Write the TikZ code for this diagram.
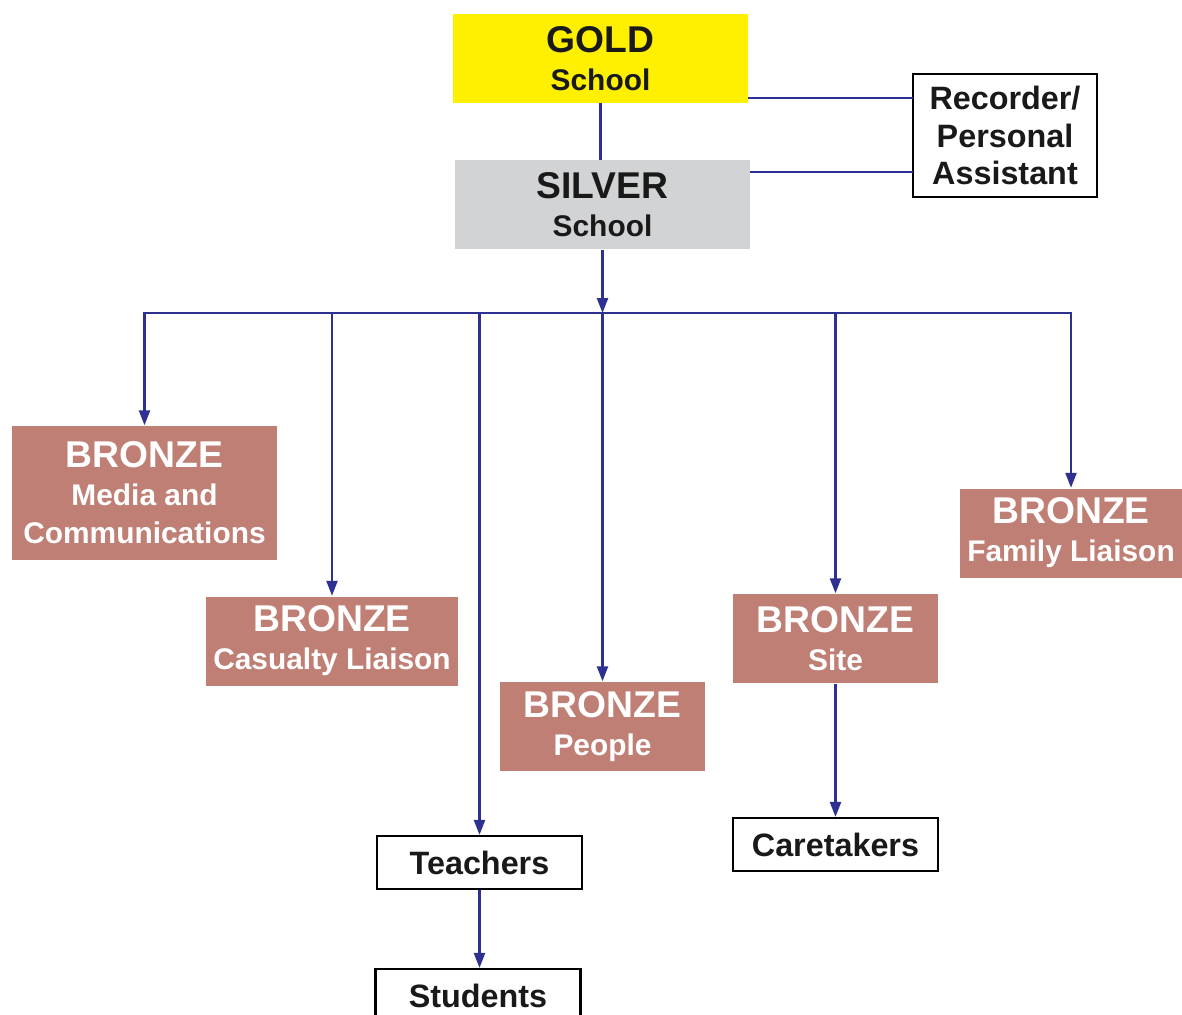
\documentclass[tikz,border=0pt]{standalone}
\usepackage{fontspec}
\setmainfont{Liberation Sans}
\usetikzlibrary{arrows.meta, calc}
\definecolor{goldfill}{RGB}{255,240,0}
\definecolor{silverfill}{RGB}{209,211,212}
\definecolor{bronzefill}{RGB}{191,127,117}
\definecolor{linkblue}{RGB}{46,49,146}
\newcommand{\titlefont}{\bfseries\fontsize{10.6}{10.8}\selectfont}
\newcommand{\subfont}{\bfseries\fontsize{8.5}{10.8}\selectfont}
\newcommand{\staffont}{\bfseries\fontsize{9.2}{10.7}\selectfont}

\begin{document}
\begin{tikzpicture}[
  x=0.1mm, y=-0.1mm,
  every node/.style={align=center, inner sep=0pt},
  rank/.style={
    rectangle, minimum width=29.5mm, minimum height=8.9mm,
    text=black!90, font=\subfont
  },
  bronze/.style={
    rectangle, fill=bronzefill, text=white, minimum height=8.9mm,
    font=\subfont
  },
  staff/.style={
    rectangle, draw=black, line width=0.6pt, fill=white, text=black!90,
    minimum width=20.5mm, minimum height=5.3mm, font=\staffont
  },
  link/.style={draw=linkblue, line width=0.65pt, line cap=rect},
  arr/.style={link, line cap=butt, -{Triangle[length=1.5mm, width=1.1mm]}}
]
\fill[white] (0,0) rectangle (1182,1015);
\clip (0,0) rectangle (1182,1015);

\node[rank, fill=goldfill] (gold) at (600.5, 58.5) {{\titlefont GOLD}\\School};
\node[rank, fill=silverfill] (silver) at (602.5, 204.5) {{\titlefont SILVER}\\School};
\node[staff, minimum width=18.4mm, minimum height=12.3mm] (recorder) at (1005, 135.5) {Recorder/\\Personal\\Assistant};

\node[bronze, minimum width=26.5mm, minimum height=13.4mm] (media) at (144.5, 493) {{\titlefont BRONZE}\\Media and\\Communications};
\node[bronze, minimum width=25.2mm] (casualty) at (332, 641) {{\titlefont BRONZE}\\Casualty Liaison};
\node[bronze, minimum width=20.5mm] (people) at (602.5, 726.5) {{\titlefont BRONZE}\\People};
\node[bronze, minimum width=20.5mm] (site) at (835.5, 638.5) {{\titlefont BRONZE}\\Site};
\node[bronze, minimum width=22.2mm] (family) at (1071, 533) {{\titlefont BRONZE}\\Family Liaison};

\node[staff] (teachers) at (479.5, 862.5) {Teachers};
\node[staff] (caretakers) at (835.5, 844.5) {Caretakers};
\node[staff] (students) at (478, 995.5) {Students};

% links to the recorder
\coordinate (gr) at ($(gold.south east)+(0,-6)$);
\coordinate (sr) at ($(silver.north east)+(0,13)$);
\draw[link] (gr) -- (gr -| recorder.west);
\draw[link] (sr) -- (sr -| recorder.west);

\draw[link] (gold.south) -- (gold.south |- silver.north);

% bus to the bronze commanders
\coordinate (bus) at (604, 313);
\draw[arr] (silver.south) -- (silver.south |- bus);
\draw[link] (bus -| media) -- (bus -| family);
\foreach \n in {media, casualty, teachers, people, site, family}
  \draw[arr] (bus -| \n) -- (\n);

\draw[arr] (site) -- (caretakers);
\draw[arr] (teachers.south) -- (teachers.south |- students.north);
\end{tikzpicture}
\end{document}
